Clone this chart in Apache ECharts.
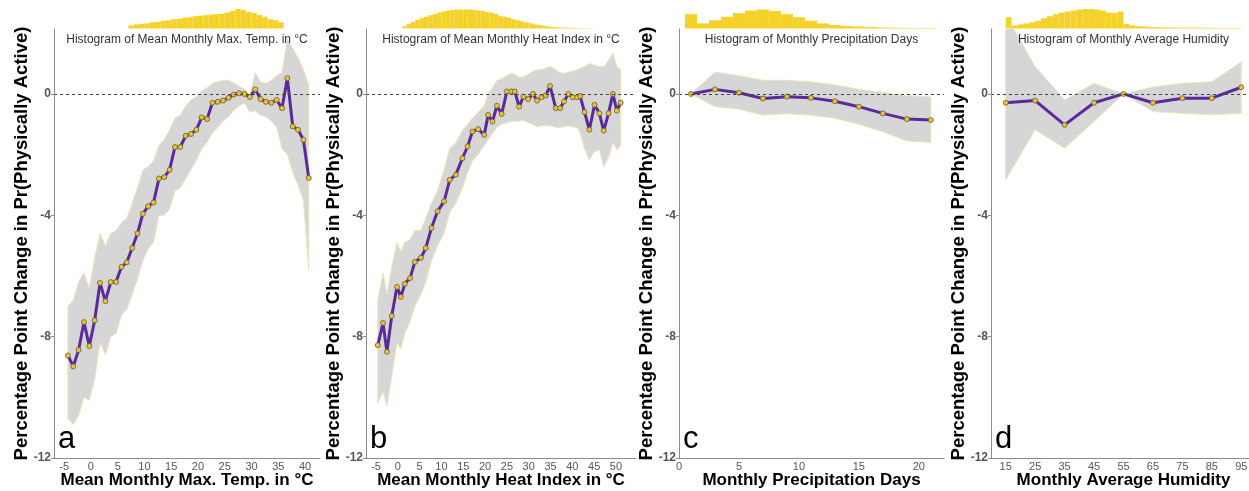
<!DOCTYPE html>
<html>
<head>
<meta charset="utf-8">
<script src="https://cdn.jsdelivr.net/npm/echarts@6/dist/echarts.min.js"></script>
<style>
  html, body { margin: 0; padding: 0; background: #fff; }
  #chart { width: 1249px; height: 491px; }
</style>
</head>
<body>
<div id="chart"></div>
<script>
// ---- panel a: mean monthly max temp ----
var xA = [-4.3,-3.3,-2.3,-1.3,-0.3,0.7,1.7,2.7,3.7,4.7,5.7,6.7,7.7,8.7,9.7,10.7,11.7,12.7,13.7,14.7,15.7,16.7,17.7,18.7,19.7,20.7,21.7,22.7,23.7,24.7,25.7,26.7,27.7,28.7,29.7,30.7,31.7,32.7,33.7,34.7,35.7,36.7,37.7,38.7,39.7,40.7]
var yA = [-8.62,-8.98,-8.44,-7.52,-8.31,-7.46,-6.23,-6.83,-6.2,-6.2,-5.7,-5.55,-5.08,-4.6,-3.95,-3.7,-3.58,-2.79,-2.74,-2.5,-1.75,-1.75,-1.38,-1.32,-1.18,-0.77,-0.83,-0.29,-0.26,-0.22,-0.13,-0.02,0.02,0,-0.1,0.15,-0.17,-0.26,-0.29,-0.2,-0.47,0.52,-1.07,-1.18,-1.51,-2.77]
var upA = [-7.0,-6.8,-6.2,-5.9,-6.4,-5.4,-4.6,-5.0,-4.6,-4.5,-4.25,-4.1,-3.6,-3.1,-2.5,-2.4,-2.2,-1.7,-1.5,-1.2,-0.8,-0.7,-0.4,-0.2,-0.1,0.1,0.2,0.35,0.4,0.45,0.45,0.35,0.25,0.15,-0.05,0.7,0.4,0.35,0.45,0.6,0.7,1.8,1.5,1.2,0.8,0.3]
var loA = [-10.7,-10.9,-10.6,-10.0,-10.1,-9.4,-8.2,-8.6,-8.0,-7.9,-7.3,-7.1,-6.6,-6.1,-5.5,-5.1,-4.9,-4.0,-4.0,-3.8,-3.2,-3.1,-2.8,-2.5,-2.2,-1.8,-1.6,-1.3,-1.1,-0.9,-0.75,-0.55,-0.4,-0.3,-0.6,-0.55,-0.7,-0.75,-0.9,-1.1,-1.8,-2.0,-2.6,-3.0,-3.5,-5.8]
var hxA = [7.5,8.5,9.5,10.5,11.5,12.5,13.5,14.5,15.5,16.5,17.5,18.5,19.5,20.5,21.5,22.5,23.5,24.5,25.5,26.5,27.5,28.5,29.5,30.5,31.5,32.5,33.5,34.5,35.5]
var hyA = [3,4,4.5,5,6,6.5,7.5,8,9,9.5,10.5,11,12,12.5,13,13.5,14,14.5,15.5,17,19,18,16,15,13,11.5,9,8,6]

// ---- panel b: mean monthly heat index ----
var xB = [-4.6,-3.4,-2.5,-1.4,-0.2,0.7,1.6,2.8,3.9,5.3,6.4,7.7,9.1,10.6,11.9,13.3,14.8,16,17.1,18.4,19.8,20.7,21.7,22.7,23.8,25,26,26.8,27.8,28.8,29.9,31,31.9,32.9,33.9,34.9,36.2,37.2,38.1,39.1,40.1,41.1,41.8,42.8,43.9,45.1,46.2,47.2,48.3,49.3,50.2,51.1]
var yB = [-8.28,-7.55,-8.5,-7.32,-6.36,-6.69,-6.26,-6.07,-5.54,-5.4,-5.08,-4.42,-3.87,-3.54,-2.83,-2.66,-2.12,-1.73,-1.24,-1.16,-1.35,-0.69,-0.91,-0.39,-0.66,0.08,0.08,0.08,-0.42,-0.09,-0.17,0,-0.22,-0.11,-0.05,0.26,-0.47,-0.47,-0.25,0,-0.11,-0.11,-0.07,-0.6,-1.18,-0.36,-0.64,-1.21,-0.64,0,-0.55,-0.29]
var upB = [-6.8,-5.9,-6.6,-5.7,-4.9,-5.2,-4.9,-4.8,-4.5,-4.5,-4.1,-3.6,-3.2,-2.5,-1.8,-1.6,-1.2,-1.0,-0.8,-0.6,-0.4,0.0,0.2,0.45,0.5,0.6,0.68,0.65,0.55,0.57,0.65,0.75,0.79,0.8,0.85,0.9,0.8,0.7,0.68,0.72,0.75,0.79,0.85,0.9,1.0,0.95,0.9,0.9,1.1,1.35,0.9,0.8]
var loB = [-10.2,-9.8,-10.3,-9.3,-8.2,-8.4,-7.9,-7.5,-7.0,-6.6,-6.2,-5.5,-5.0,-4.6,-3.9,-3.6,-3.1,-2.6,-2.2,-2.0,-1.7,-1.5,-1.3,-1.1,-1.0,-0.95,-0.9,-0.9,-0.9,-0.86,-0.95,-1.0,-1.08,-1.05,-1.05,-1.05,-1.1,-1.1,-1.08,-1.05,-1.08,-1.1,-1.3,-1.8,-2.18,-1.9,-1.85,-2.4,-2.1,-1.6,-1.85,-1.7]
var hxB = [1.5,2.5,3.5,4.5,5.5,6.5,7.5,8.5,9.5,10.5,11.5,12.5,13.5,14.5,15.5,16.5,17.5,18.5,19.5,20.5,21.5,22.5,23.5,24.5,25.5,26.5,27.5,28.5,29.5,30.5,31.5,32.5,33.5,34.5,35.5,36.5,37.5,38.5,39.5,40.5,41.5,42.5,43.5,44.5]
var hyB = [2,4.5,6.5,8.5,10,11.5,13,14,15.5,16.5,17.5,18,18.5,18.5,18.5,18.5,18,17.5,17,16,15.5,14,12.5,11.5,10.5,9,8,7,6,5,4,3.5,2.5,2,1.5,1.2,1,0.8,0.6,0.5,0.4,0.3,0.3,0.2]

// ---- panel c: monthly precipitation days ----
var xC = [1,3,5,7,9,11,13,15,17,19,21]
var yC = [0,0.15,0.04,-0.15,-0.09,-0.13,-0.24,-0.42,-0.64,-0.83,-0.86]
var upC = [0,0.72,0.6,0.45,0.45,0.4,0.3,0.15,0.05,-0.05,-0.1]
var loC = [0,-0.42,-0.5,-0.7,-0.65,-0.7,-0.8,-1.0,-1.25,-1.55,-1.6]
var hxC = [1,2,3,4,5,6,7,8,9,10,11,12,13,14,15,16,17,18,19,20,21]
var hyC = [14,5,8,11.5,15,17.5,18.5,17,14,11,7.5,5,3.5,2.5,2,1.5,1,0.8,0.6,0.5,0.4]

// ---- panel d: monthly average humidity ----
var xD = [15,25,35,45,55,65,75,85,95]
var yD = [-0.29,-0.22,-1.02,-0.29,0,-0.29,-0.14,-0.14,0.22]
var upD = [2.6,0.9,-0.2,0.35,0,0.23,0.35,0.4,1.06]
var loD = [-2.83,-1.18,-1.79,-0.91,0,-0.58,-0.64,-0.69,-0.64]
var hxD = [16,18,20,22,24,26,28,30,32,34,36,38,40,42,44,46,48,50,52,54,56,58,60,62,64,66,68,70,72,74,76,78,80,82,84,86,88,90,92,94]
var hyD = [11,3,4,5,6,7.5,10,12,14,15.5,16.5,17.5,18.5,19,19,18.5,17.5,15.5,15,16.5,4.5,3,2.3,2,1.6,1.4,1.2,1.1,1,1,0.9,0.9,0.8,0.8,0.7,0.7,0.6,0.6,0.5,0.5]

var yTicks = [-12, -8, -4, 0]
var xTicksA = [-5,0,5,10,15,20,25,30,35,40]
var xTicksB = [-5,0,5,10,15,20,25,30,35,40,45,50]
var xTicksC = [0,5,10,15,20]
var xTicksD = [15,25,35,45,55,65,75,85,95]

var panels = [
  { letter: 'a', left: 54, width: 266, xmin: -6.9, xmax: 42.8, barW: 5.4, xs: xA, ys: yA, up: upA, lo: loA, hx: hxA, hy: hyA, ticks: xTicksA,
    hist: 'Histogram of Mean Monthly Max. Temp. in \u00B0C', xname: 'Mean Monthly Max. Temp. in \u00B0C' },
  { letter: 'b', left: 366, width: 270, xmin: -7.3, xmax: 54.6, barW: 4.4, xs: xB, ys: yB, up: upB, lo: loB, hx: hxB, hy: hyB, ticks: xTicksB,
    hist: 'Histogram of Mean Monthly Heat Index in \u00B0C', xname: 'Mean Monthly Heat Index in \u00B0C' },
  { letter: 'c', left: 679, width: 265, xmin: 0, xmax: 22.1, barW: 12, xs: xC, ys: yC, up: upC, lo: loC, hx: hxC, hy: hyC, ticks: xTicksC,
    hist: 'Histogram of Monthly Precipitation Days', xname: 'Monthly Precipitation Days' },
  { letter: 'd', left: 991, width: 265, xmin: 10, xmax: 100, barW: 5.9, xs: xD, ys: yD, up: upD, lo: loD, hx: hxD, hy: hyD, ticks: xTicksD,
    hist: 'Histogram of Monthly Average Humidity', xname: 'Monthly Average Humidity' }
]

var FONT = 'Liberation Sans, Arial, sans-serif'
var chart = echarts.init(document.getElementById('chart'))
var grid = [], xAxis = [], yAxis = [], series = [], graphic = []

// draws the whole confidence band as one polygon, from the first data item
function bandItem(params, api) {
  if (params.dataIndexInside !== 0) return null
  var n = params.dataInsideLength
  var top = [], bottom = []
  for (var k = 0; k < n; k++) {
    top.push(api.coord([api.value(0, k), api.value(2, k)]))
    bottom.unshift(api.coord([api.value(0, k), api.value(1, k)]))
  }
  return {
    type: 'polygon',
    shape: { points: top.concat(bottom) },
    style: { fill: '#d6d6d6', stroke: '#ece4bc', lineWidth: 1 }
  }
}

panels.forEach(function(p, i) {
  var g = i * 2
  // main plot
  grid.push({ left: p.left, top: 29, width: p.width, height: 429, outerBoundsMode: 'none' })
  // histogram strip on top
  grid.push({ left: p.left, top: 8, width: p.width, height: 20.5, outerBoundsMode: 'none' })

  xAxis.push({
    type: 'value', gridIndex: g, min: p.xmin, max: p.xmax, z: 5,
    name: p.xname, nameLocation: 'middle', nameGap: 14, nameMoveOverlap: false,
    nameTextStyle: { fontFamily: FONT, fontSize: 17, fontWeight: 'bold', color: '#000' },
    axisLine: { onZero: false, lineStyle: { color: '#8c8c8c', width: 1 } },
    axisTick: { show: false },
    axisLabel: { customValues: p.ticks, fontFamily: FONT, fontSize: 11, color: '#555', margin: 3 },
    splitLine: { show: false }
  })
  xAxis.push({ type: 'value', gridIndex: g + 1, min: p.xmin, max: p.xmax, show: false })

  yAxis.push({
    type: 'value', gridIndex: g, min: -12, max: 2.14, z: 5,
    name: 'Percentage Point Change in Pr(Physically Active)', nameLocation: 'middle', nameGap: 23, nameMoveOverlap: false,
    nameTextStyle: { fontFamily: FONT, fontSize: 18.5, fontWeight: 'bold', color: '#000' },
    axisLine: { show: true, onZero: false, lineStyle: { color: '#8c8c8c', width: 1 } },
    axisTick: { show: true, length: 3, customValues: yTicks, lineStyle: { color: '#8c8c8c' } },
    axisLabel: { customValues: yTicks, fontFamily: FONT, fontSize: 12, fontWeight: 'bold', color: '#555', margin: 3 },
    splitLine: { show: false }
  })
  yAxis.push({ type: 'value', gridIndex: g + 1, min: 0, max: 20, show: false })

  series.push({
    type: 'custom', xAxisIndex: g, yAxisIndex: g, clip: true, silent: true, z: 1,
    data: p.xs.map(function(x, k) { return [x, p.lo[k], p.up[k]] }),
    encode: { x: 0, y: [1, 2] },
    renderItem: bandItem
  })
  series.push({
    type: 'line', xAxisIndex: g, yAxisIndex: g,
    data: p.xs.map(function(x, k) { return [x, p.ys[k]] }),
    lineStyle: { color: '#5a2a9c', width: 3 },
    symbol: 'circle', symbolSize: 5,
    itemStyle: { color: '#e6c43a', borderColor: '#6e5a2a', borderWidth: 0.8 },
    z: 3,
    markLine: {
      silent: true, symbol: 'none', label: { show: false },
      lineStyle: { color: '#444', type: [3, 3], width: 1 },
      data: [{ yAxis: 0 }]
    }
  })
  series.push({
    type: 'bar', xAxisIndex: g + 1, yAxisIndex: g + 1,
    data: p.hx.map(function(x, k) { return [x, p.hy[k]] }),
    barWidth: p.barW, itemStyle: { color: '#f5d22a' }, silent: true
  })

  graphic.push({
    type: 'text', x: p.left + p.width / 2, y: 40, z: 10,
    style: { text: p.hist, font: '12px ' + FONT, fill: '#333', textAlign: 'center', textVerticalAlign: 'middle' }
  })
  graphic.push({
    type: 'text', x: p.left + 4, y: 455, z: 10,
    style: { text: p.letter, font: '31px ' + FONT, fill: '#000', textAlign: 'left', textVerticalAlign: 'bottom' }
  })
})

chart.setOption({
  animation: false,
  grid: grid,
  xAxis: xAxis,
  yAxis: yAxis,
  series: series,
  graphic: graphic
})
</script>
</body>
</html>
